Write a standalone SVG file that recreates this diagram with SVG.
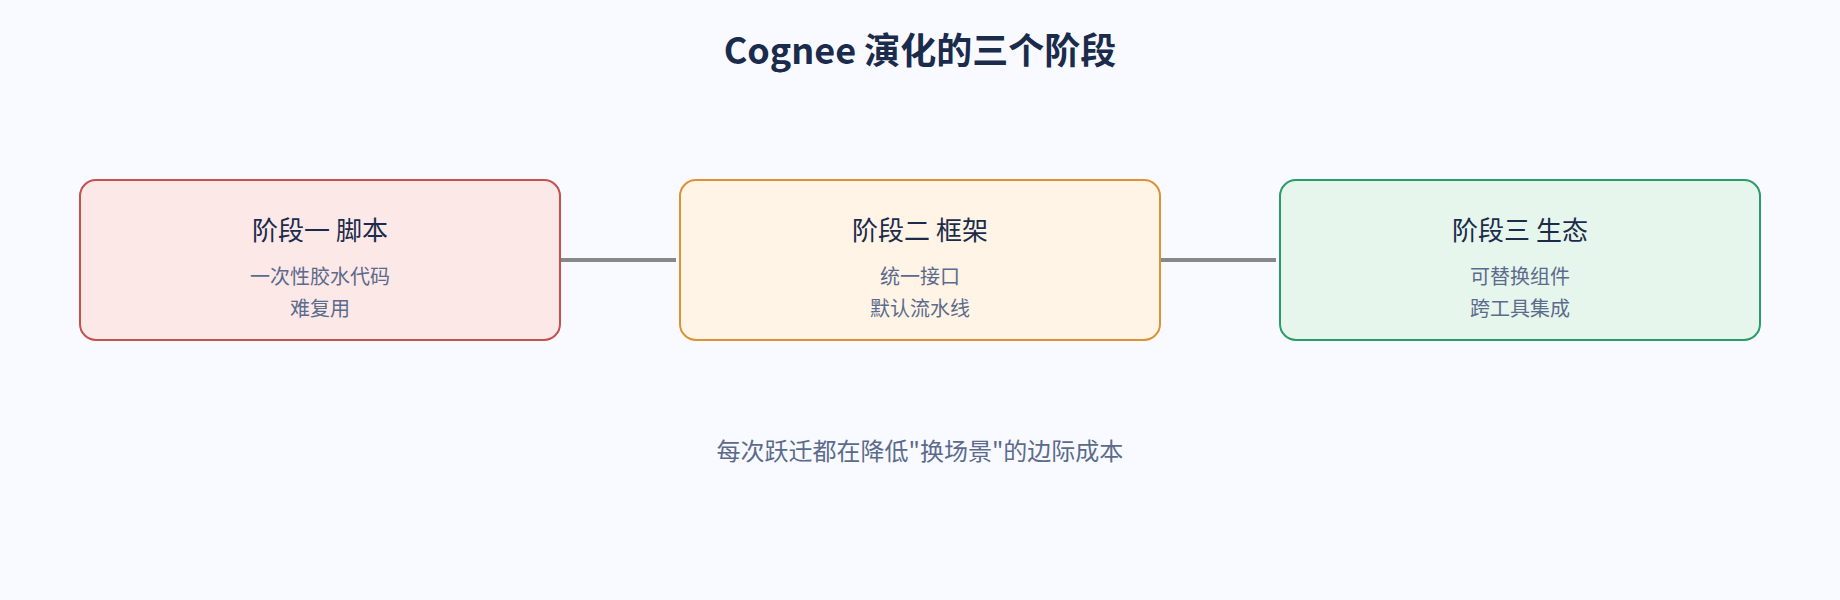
<svg xmlns="http://www.w3.org/2000/svg" width="1840" height="600" viewBox="0 0 1840 600">
<style>
text{font-family:"Noto Sans CJK SC","Noto Sans",sans-serif;text-anchor:middle}
.title{font-size:36px;font-weight:700;fill:#1b2b4b}
.h{font-size:26px;fill:#1b2b4b}
.s{font-size:20px;fill:#5b6b8c}
.foot{font-size:24px;fill:#5b6b8c}
.conn{stroke:#888888;stroke-width:4}
</style>
<rect width="1840" height="600" fill="#f8faff"/>
<text class="title" x="920" y="64">Cognee 演化的三个阶段</text>
<g id="connectors">
<line class="conn" x1="560" y1="260" x2="676" y2="260"/>
<line class="conn" x1="1160" y1="260" x2="1276" y2="260"/>
</g>
<g id="stage1">
<rect x="80" y="180" width="480" height="160" rx="16" fill="#fde8e8" stroke="#c5504e" stroke-width="2"/>
<text class="h" x="320" y="240">阶段一 脚本</text>
<text class="s" x="320" y="284">一次性胶水代码</text>
<text class="s" x="320" y="316">难复用</text>
</g>
<g id="stage2">
<rect x="680" y="180" width="480" height="160" rx="16" fill="#fff4e6" stroke="#df9032" stroke-width="2"/>
<text class="h" x="920" y="240">阶段二 框架</text>
<text class="s" x="920" y="284">统一接口</text>
<text class="s" x="920" y="316">默认流水线</text>
</g>
<g id="stage3">
<rect x="1280" y="180" width="480" height="160" rx="16" fill="#e6f6ec" stroke="#2a9c68" stroke-width="2"/>
<text class="h" x="1520" y="240">阶段三 生态</text>
<text class="s" x="1520" y="284">可替换组件</text>
<text class="s" x="1520" y="316">跨工具集成</text>
</g>
<text class="foot" x="920" y="460">每次跃迁都在降低"换场景"的边际成本</text>
</svg>
